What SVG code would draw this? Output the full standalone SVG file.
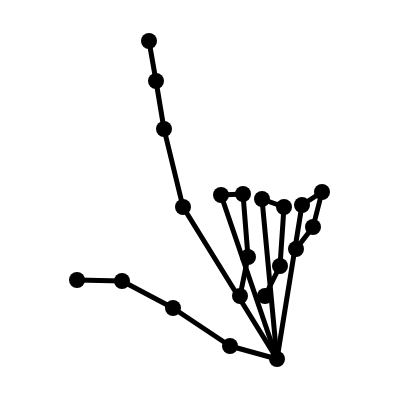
<svg xmlns="http://www.w3.org/2000/svg" width="400" height="400" viewBox="0 0 400 400">
<style>
.e{stroke:#000;stroke-width:5;stroke-linecap:round;fill:none}
.n{fill:#000}
</style>
<rect width="400" height="400" fill="#fff"/>
<g id="connectors" class="e">
<line x1="277" y1="359" x2="230" y2="346"/>
<line x1="230" y1="346" x2="173" y2="308"/>
<line x1="173" y1="308" x2="122" y2="281"/>
<line x1="122" y1="281" x2="77" y2="280"/>
<line x1="277" y1="359" x2="183" y2="207"/>
<line x1="183" y1="207" x2="164" y2="129"/>
<line x1="164" y1="129" x2="156" y2="81"/>
<line x1="156" y1="81" x2="149" y2="41"/>
<line x1="277" y1="359" x2="221" y2="195"/>
<line x1="221" y1="195" x2="243" y2="194"/>
<line x1="243" y1="194" x2="248" y2="257"/>
<line x1="248" y1="257" x2="240" y2="296"/>
<line x1="277" y1="359" x2="262" y2="199"/>
<line x1="262" y1="199" x2="284" y2="207"/>
<line x1="284" y1="207" x2="280" y2="266"/>
<line x1="280" y1="266" x2="265" y2="296"/>
<line x1="277" y1="359" x2="302" y2="205"/>
<line x1="302" y1="205" x2="322" y2="192"/>
<line x1="322" y1="192" x2="313" y2="227"/>
<line x1="313" y1="227" x2="296" y2="249"/>
</g>
<g id="n0"><circle class="n" cx="277" cy="359" r="8"/></g>
<g id="n1"><circle class="n" cx="230" cy="346" r="8"/></g>
<g id="n2"><circle class="n" cx="173" cy="308" r="8"/></g>
<g id="n3"><circle class="n" cx="122" cy="281" r="8"/></g>
<g id="n4"><circle class="n" cx="77" cy="280" r="8"/></g>
<g id="n5"><circle class="n" cx="183" cy="207" r="8"/></g>
<g id="n6"><circle class="n" cx="164" cy="129" r="8"/></g>
<g id="n7"><circle class="n" cx="156" cy="81" r="8"/></g>
<g id="n8"><circle class="n" cx="149" cy="41" r="8"/></g>
<g id="n9"><circle class="n" cx="221" cy="195" r="8"/></g>
<g id="n10"><circle class="n" cx="243" cy="194" r="8"/></g>
<g id="n11"><circle class="n" cx="248" cy="257" r="8"/></g>
<g id="n12"><circle class="n" cx="240" cy="296" r="8"/></g>
<g id="n13"><circle class="n" cx="262" cy="199" r="8"/></g>
<g id="n14"><circle class="n" cx="284" cy="207" r="8"/></g>
<g id="n15"><circle class="n" cx="280" cy="266" r="8"/></g>
<g id="n16"><circle class="n" cx="265" cy="296" r="8"/></g>
<g id="n17"><circle class="n" cx="302" cy="205" r="8"/></g>
<g id="n18"><circle class="n" cx="322" cy="192" r="8"/></g>
<g id="n19"><circle class="n" cx="313" cy="227" r="8"/></g>
<g id="n20"><circle class="n" cx="296" cy="249" r="8"/></g>
</svg>
